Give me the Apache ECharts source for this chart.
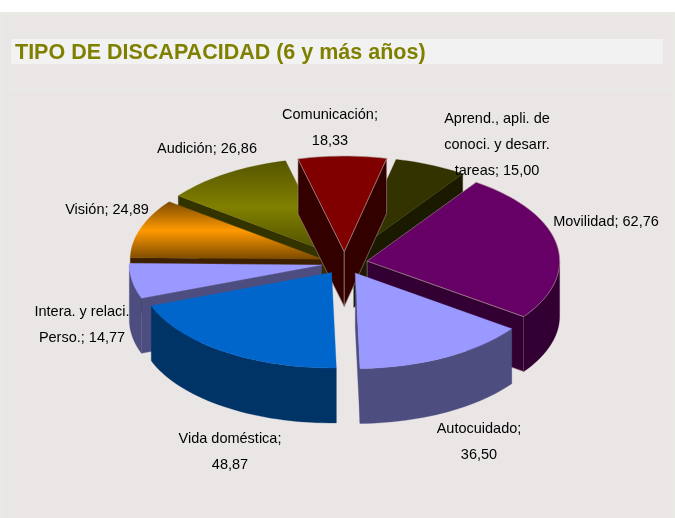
<!DOCTYPE html>
<html><head><meta charset="utf-8">
<style>html,body{margin:0;padding:0;background:#fff}#c{width:675px;height:518px}</style>
<script src="https://cdn.jsdelivr.net/npm/echarts@6/dist/echarts.min.js"></script>
</head><body><div id="c"></div>
<script>
// Data (clockwise from the first slice)
const titleText = 'TIPO DE DISCAPACIDAD (6 y más años)';
const categories = ['Comunicación', 'Aprend., apli. de\nconoci. y desarr.\ntareas', 'Movilidad', 'Autocuidado', 'Vida doméstica', 'Intera. y relaci.\nPerso.', 'Visión', 'Audición'];
const values = [18.33, 15.00, 62.76, 36.50, 48.87, 14.77, 24.89, 26.86];
const labelBreakBeforeValue = [true, false, false, true, true, false, false, false];

// Presentation
const topColors = ['#800000', '#333300', '#660066', '#9999ff', '#0066cc', '#9999ff', null, null];
const wallColors = ['#330000', '#1a1a00', '#330033', '#4d4d80', '#003366', '#4d4d80', '#3d2000', '#333300'];
const gradients = { 6: ['#7a4a00', '#ff9900', '#7a4a00'], 7: ['#555500', '#808000', '#4d4d00'] };
const labelCentres = [[330, 128], [497, 145], [606, 222], [479, 442], [230, 451.5], [82, 325], [107, 210], [207, 149]];
const paintOrder = [7, 1, 6, 2, 0, 5, 3, 4];
const pie = { cx: 344.5, cy: 263, rx: 192.5, ry: 95.5, depth: 55, explode: 23, startDeg: -13.9 };

const total = values.reduce((a, b) => a + b, 0);
const rad = d => d * Math.PI / 180;
const spans = [];
values.reduce((acc, v) => { const e = acc + v / total * 360; spans.push([acc, e]); return e; }, pie.startDeg);

function rim(o, t) { return [o[0] + pie.rx * Math.sin(rad(t)), o[1] - pie.ry * Math.cos(rad(t))]; }
function arc(o, a, b) {
  const n = Math.max(2, Math.ceil(Math.abs(b - a) / 2)), pts = [];
  for (let i = 0; i <= n; i++) pts.push(rim(o, a + (b - a) * i / n));
  return pts;
}
const poly = (points, fill, stroke, z2) => ({
  type: 'polygon', shape: { points }, z2,
  style: { fill, stroke: stroke || fill, lineWidth: stroke ? 0.6 : 0.3 }
});

function renderItem(params, api) {
  const i = api.value(0);
  const [a, b] = spans[i];
  const mid = rad((a + b) / 2);
  const o = [pie.cx + pie.explode * Math.sin(mid), pie.cy - pie.explode * pie.ry / pie.rx * Math.cos(mid)];
  const down = p => [p[0], p[1] + pie.depth];
  const kids = [];
  const wall = wallColors[i];
  const edgeLine = i === 0 || i === 2 ? '#a58a8a' : null;
  const radial = t => { const p = rim(o, t); return [o, p, down(p), down(o)]; };
  if (Math.sin(rad(a)) < 0) kids.push(poly(radial(a), wall, edgeLine));
  if (Math.sin(rad(b)) > 0) kids.push(poly(radial(b), wall, edgeLine));
  // front rim: the part of the circle whose normal faces the viewer
  const from = Math.max(a, 90), to = Math.min(b, 270);
  if (to > from) {
    const top = arc(o, from, to);
    kids.push(poly(top.concat(top.map(down).reverse()), wall));
  }
  let fill = topColors[i];
  if (gradients[i]) {
    const g = gradients[i];
    fill = new echarts.graphic.LinearGradient(0, 0, 0, 1, [
      { offset: 0, color: g[0] }, { offset: 0.5, color: g[1] }, { offset: 1, color: g[2] }]);
  }
  kids.push(poly([o].concat(arc(o, a, b)), fill, edgeLine));
  return { type: 'group', children: kids };
}

const labelText = i => {
  const v = values[i].toFixed(2).replace('.', ',');
  return categories[i] + ';' + (labelBreakBeforeValue[i] ? '\n' : ' ') + v;
};

const chart = echarts.init(document.getElementById('c'), null, { renderer: 'canvas' });
const panel = '#ebe6e6';
chart.setOption({
  animation: false,
  backgroundColor: '#ffffff',
  graphic: [
    { type: 'rect', silent: true, z: -1, shape: { x: 0, y: 12, width: 675, height: 506 }, style: { fill: '#e9e9e6' } },
    { type: 'rect', silent: true, z: -1, shape: { x: 3, y: 15, width: 669, height: 73 }, style: { fill: panel } },
    { type: 'rect', silent: true, z: -1, shape: { x: 3, y: 90, width: 669, height: 428 }, style: { fill: panel } },
    { type: 'rect', silent: true, z: -1, shape: { x: 11, y: 39, width: 652, height: 25 }, style: { fill: '#f2f2f2' } }
  ].concat(categories.map((c, i) => ({
    type: 'text', silent: true, z: 10, x: labelCentres[i][0], y: labelCentres[i][1],
    style: { text: labelText(i), font: '14.5px "Liberation Sans", Arial, sans-serif', fill: '#000', align: 'center', verticalAlign: 'middle', lineHeight: 26 }
  }))),
  title: {
    text: titleText, left: 10, top: 37,
    textStyle: { color: '#808000', fontSize: 21.5, fontWeight: 'bold', fontFamily: '"Liberation Sans", Arial, sans-serif' }
  },
  series: [{
    type: 'custom', coordinateSystem: 'none', silent: true, renderItem,
    data: paintOrder.map(i => [i, values[i]])
  }]
});
</script></body></html>
